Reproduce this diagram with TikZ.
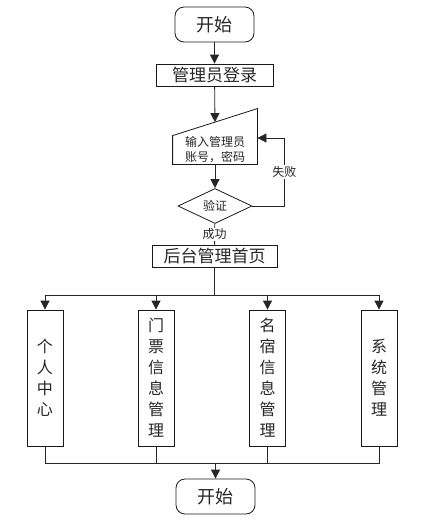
\documentclass[tikz,border=0pt]{standalone}
\usepackage{fontspec}
\newfontfamily\cjk{Noto Sans CJK SC}
\usetikzlibrary{calc,arrows.meta,positioning,shapes.geometric}
\tikzset{
	every node/.style={font=\cjk},
	termnode/.style={rectangle, rounded corners=9pt, draw=black!90, thick, minimum width=79pt, minimum height=35pt, font=\cjk\fontsize{18}{20}\selectfont},
	squarednode/.style={rectangle, draw=black!90, thick, inner sep=0pt, font=\cjk\fontsize{17}{20}\selectfont},
	checknode/.style={diamond, draw=black!90, thick, minimum width=74pt, minimum height=35pt, inner sep=0pt, font=\cjk\fontsize{12}{14}\selectfont},
	modnode/.style={rectangle, draw=black!90, thick, minimum width=36pt, minimum height=136pt, align=center, font=\cjk\fontsize{16}{21}\selectfont},
	lbl/.style={fill=white, inner sep=1pt, font=\cjk\fontsize{12}{14}\selectfont}
}
\begin{document}
\begin{tikzpicture}[x=1pt, y=-1pt, ->, >={Triangle[length=9pt,width=9pt]}, thick, black!85]
	\useasboundingbox (0,0) rectangle (444,523);

	\node[termnode] (start) at (214.5,24.5) {开始};
	\node[squarednode, minimum width=117pt, minimum height=22pt] (login) at (214.5,75) {管理员登录};
	\node[align=center, minimum width=84pt, minimum height=28pt, inner sep=0pt, font=\cjk\fontsize{12}{15}\selectfont] (inp) at (215,150) {输入管理员\\账号，密码};
	\node[checknode] (chk) at (215,206) {验证};
	\node[squarednode, minimum width=125pt, minimum height=22pt] (home) at (214.5,256) {后台管理首页};

	\node[modnode] (m1) at (45,378) {个\\人\\中\\心};
	\node[modnode] (m2) at (156,378) {门\\票\\信\\息\\管\\理};
	\node[modnode] (m3) at (267.5,378) {名\\宿\\信\\息\\管\\理};
	\node[modnode] (m4) at (379,378) {系\\统\\管\\理};

	\node[termnode] (end) at (215.5,496.5) {开始};

	% Input shape
	\draw[-, black!90] (inp.south west) -- (inp.south east) -- ([yshift=27pt]inp.north east) -- (inp.north west) -- cycle;
	\coordinate (inptop) at ([yshift=13.5pt]inp.north);

	% Main line
	\draw (start) -- (login);
	\draw (login) -- (inptop);
	\draw (inp) -- (chk);
	\draw[-] (chk) -- node[lbl] {成功} (home);
	\draw (chk.east) -- ++(32,0) |- node[lbl, pos=0.25] {失败} ([yshift=12pt]inp.east);

	% Upper bus
	\draw[-] (home.south) -- ++(0,28) coordinate (bus);
	\draw (bus) -| (m1);
	\draw (bus) -| (m2);
	\draw (bus) -| (m3);
	\draw (bus) -| (m4);

	% Lower bus
	\coordinate (ebus) at (215.5,463);
	\draw[-] (m1) |- (ebus);
	\draw[-] (m4) |- (ebus);
	\draw[-] (m2.south) -- ++(0,17);
	\draw[-] (m3.south) -- ++(0,17);
	\draw (ebus) -- (end);
\end{tikzpicture}
\end{document}
